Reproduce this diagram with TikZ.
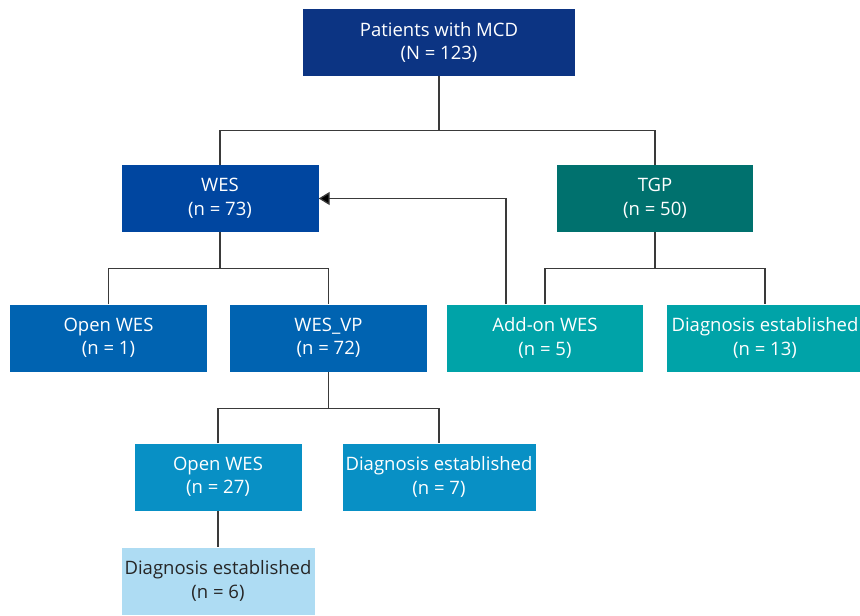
\documentclass[tikz,border=0pt]{standalone}
\usepackage{fontspec}
\setmainfont{Open Sans}
\usetikzlibrary{arrows.meta}

\definecolor{topColor}{HTML}{0C3483}
\definecolor{wesColor}{HTML}{0046A0}
\definecolor{tgpColor}{HTML}{00716E}
\definecolor{wesSubColor}{HTML}{0063B1}
\definecolor{tgpSubColor}{HTML}{00A3A8}
\definecolor{vpSubColor}{HTML}{0890C5}
\definecolor{lastColor}{HTML}{AEDCF3}
\definecolor{lineColor}{HTML}{3A3A3A}

\tikzset{
    box/.style={minimum height=67pt, inner sep=0pt, align=center, text=white,
        font=\fontsize{18.5}{23.5}\selectfont},
    link/.style={draw=lineColor, line width=1.3pt}
}

\begin{document}
\begin{tikzpicture}[x=1pt,y=-1pt]
    \useasboundingbox (0,0) rectangle (860,616);

    % boxes
    \node[box, fill=topColor, minimum width=272pt] (patients) at (439,42.5) {Patients with MCD\\(N = 123)};
    \node[box, fill=wesColor, minimum width=197pt] (wes) at (220,198.5) {WES\\(n = 73)};
    \node[box, fill=tgpColor, minimum width=196pt] (tgp) at (655,198.5) {TGP\\(n = 50)};

    \node[box, fill=wesSubColor, minimum width=197pt] (openWes) at (108.5,338) {Open WES\\(n = 1)};
    \node[box, fill=wesSubColor, minimum width=197pt] (wesVp) at (328.5,338) {WES\_VP\\(n = 72)};
    \node[box, fill=tgpSubColor, minimum width=196pt] (addOn) at (545,338) {Add-on WES\\(n = 5)};
    \node[box, fill=tgpSubColor, minimum width=196pt] (diagTgp) at (765,338) {Diagnosis established\\(n = 13)};

    \node[box, fill=vpSubColor, minimum width=167pt] (openWesVp) at (218,477) {Open WES\\(n = 27)};
    \node[box, fill=vpSubColor, minimum width=193pt] (diagVp) at (439,477) {Diagnosis established\\(n = 7)};
    \node[box, fill=lastColor, text=black!85, minimum width=193pt] (diagOpen) at (218,581) {Diagnosis established\\(n = 6)};

    % connectors
    \draw[link] (patients.south) -- ++(0,54) coordinate (busTop);
    \draw[link] (wes.north) |- (busTop) -| (tgp.north);

    \draw[link] (wes.south) -- ++(0,36) coordinate (busWes);
    \draw[link] (openWes.north) |- (busWes) -| (wesVp.north);

    \draw[link] (tgp.south) -- ++(0,36) coordinate (busTgp);
    \draw[link] (addOn.north) |- (busTgp) -| (diagTgp.north);

    \draw[link, -{Triangle[length=11pt,width=13pt,fill=black]}] ([xshift=-39pt]addOn.north) |- (wes.east);

    \draw[link] (wesVp.south) -- ++(0,37) coordinate (busVp);
    \draw[link] (openWesVp.north) |- (busVp) -| (diagVp.north);

    \draw[link] (openWesVp.south) -- (diagOpen.north);
\end{tikzpicture}
\end{document}
